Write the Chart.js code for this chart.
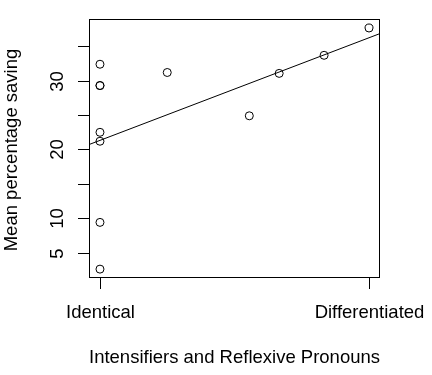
<!DOCTYPE html>
<html>
<head>
<meta charset="utf-8">
<script src="https://cdn.jsdelivr.net/npm/chart.js@4/dist/chart.umd.min.js"></script>
<style>
  html, body { margin: 0; padding: 0; background: #fff; }
  #chart { display: block; }
</style>
</head>
<body>
<canvas id="chart" width="432" height="375"></canvas>
<script>
// 0 = Identical, 1 = Differentiated
const xValues = [0, 0, 0, 0, 0, 0, 0, 0.25, 0.555, 0.666, 0.833, 1];
const savings = [32.4, 29.3, 29.3, 22.5, 21.2, 9.4, 2.6, 31.2, 24.9, 31.07, 33.7, 37.67];

// fitted line at its two ends
const fitX = [-0.05, 1.05];
const fitY = [20.58, 37.0];

const xTickValues = [0, 1];
const xTickLabels = ["Identical", "Differentiated"];
const yTickValues = [5, 10, 15, 20, 25, 30, 35];
const yTickLabels = ["5", "10", "", "20", "", "30", ""];

const xTitle = "Intensifiers and Reflexive Pronouns";
const yTitle = "Mean percentage saving";

const FONT = '18.5px "Liberation Sans", Arial, Helvetica, sans-serif';

const rAxes = {
  id: "rAxes",
  afterDraw(chart) {
    const { ctx, chartArea: a, scales } = chart;
    ctx.save();
    ctx.strokeStyle = "#000";
    ctx.lineWidth = 1;
    ctx.strokeRect(Math.round(a.left) + 0.5, Math.round(a.top) + 0.5,
      Math.round(a.right - a.left) - 1, Math.round(a.bottom - a.top) - 1);

    ctx.fillStyle = "#000";
    ctx.font = FONT;

    // x axis
    const xs = xTickValues.map((v) => Math.round(scales.x.getPixelForValue(v)) + 0.5);
    ctx.beginPath();
    xs.forEach((px) => {
      ctx.moveTo(px, a.bottom);
      ctx.lineTo(px, a.bottom + 11);
    });
    ctx.stroke();
    ctx.textAlign = "center";
    ctx.textBaseline = "alphabetic";
    xs.forEach((px, i) => ctx.fillText(xTickLabels[i], px, 318));
    ctx.fillText(xTitle, (a.left + a.right) / 2, 363);

    // y axis
    const ys = yTickValues.map((v) => Math.round(scales.y.getPixelForValue(v)) + 0.5);
    ctx.beginPath();
    ys.forEach((py) => {
      ctx.moveTo(a.left, py);
      ctx.lineTo(a.left - 11, py);
    });
    ctx.stroke();
    ys.forEach((py, i) => {
      if (!yTickLabels[i]) return;
      ctx.save();
      ctx.translate(62.5, py);
      ctx.rotate(-Math.PI / 2);
      ctx.fillText(yTickLabels[i], 0, 0);
      ctx.restore();
    });
    ctx.save();
    ctx.translate(17, 150);
    ctx.rotate(-Math.PI / 2);
    ctx.fillText(yTitle, 0, 0);
    ctx.restore();
    ctx.restore();
  },
};

new Chart(document.querySelector("#chart"), {
  type: "scatter",
  data: {
    datasets: [
      {
        label: "savings",
        data: xValues.map((x, i) => ({ x, y: savings[i] })),
        pointStyle: "circle",
        pointRadius: 4,
        pointBorderWidth: 1,
        pointBorderColor: "#000",
        pointBackgroundColor: "rgba(0,0,0,0)",
      },
      {
        label: "fit",
        data: fitX.map((x, i) => ({ x, y: fitY[i] })),
        showLine: true,
        borderColor: "#000",
        borderWidth: 1,
        pointRadius: 0,
      },
    ],
  },
  options: {
    responsive: false,
    animation: false,
    layout: { padding: { left: 89, right: 52, top: 19, bottom: 97 } },
    plugins: { legend: { display: false }, tooltip: { enabled: false } },
    scales: {
      x: { type: "linear", min: -0.0408, max: 1.0408, display: false },
      y: { type: "linear", min: 1.31, max: 38.98, display: false },
    },
  },
  plugins: [rAxes],
});
</script>
</body>
</html>
